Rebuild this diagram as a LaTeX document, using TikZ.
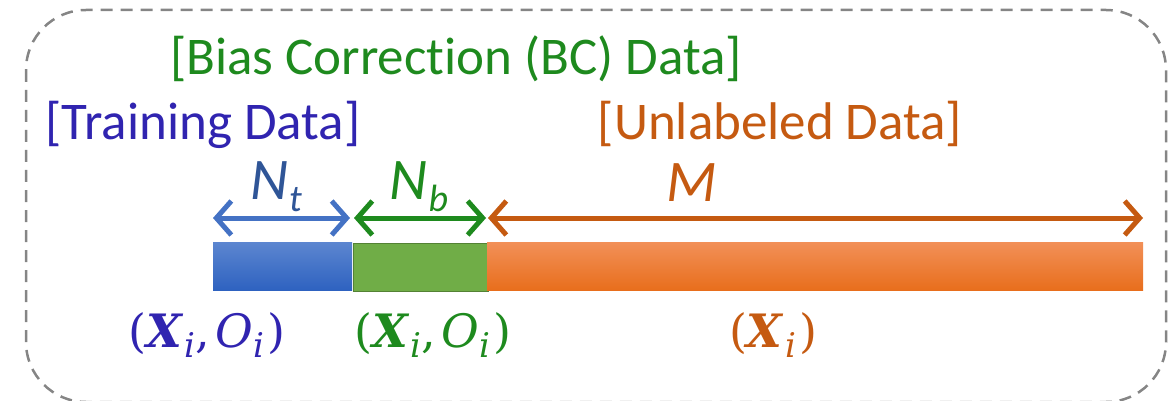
\documentclass[tikz,border=0pt]{standalone}
\usepackage{fontspec}
\setmainfont{Carlito}[Ligatures=NoCommon]
\newfontfamily\mathserif{DejaVu Serif}
\usetikzlibrary{arrows.meta}
\definecolor{frameGray}{HTML}{858585}
\definecolor{trainText}{HTML}{3024B0}
\definecolor{bcText}{HTML}{1E8A1E}
\definecolor{unlText}{HTML}{C55A11}
\definecolor{ntText}{HTML}{2F5597}
\definecolor{trainArrow}{HTML}{4472C4}
\definecolor{trainTop}{HTML}{5C86D0}
\definecolor{trainBot}{HTML}{2E62C0}
\definecolor{bcFill}{HTML}{70AD47}
\definecolor{bcEdge}{HTML}{548235}
\definecolor{unlTop}{HTML}{F29058}
\definecolor{unlBot}{HTML}{E86E1C}
\newcommand{\subsym}[1]{\raisebox{-13pt}{\fontsize{38}{40}\selectfont #1}}
\newcommand{\subidx}{\raisebox{-10pt}{\fontsize{34}{36}\selectfont\itshape i}}
\tikzset{
  x=1pt, y=-1pt,
  lbl/.style={font=\fontsize{53}{56}\selectfont, inner sep=0pt, anchor=base},
  sym/.style={font=\fontsize{59}{62}\selectfont\itshape, inner sep=0pt, anchor=base},
  pair/.style={font=\fontsize{46}{50}\selectfont\mathserif, inner sep=0pt, anchor=base},
  span/.style={line width=5pt, {Straight Barb[length=15pt,width=34pt,line width=5pt]}-{Straight Barb[length=15pt,width=34pt,line width=5pt]}},
  bar/.style={minimum height=48pt, inner sep=0pt, anchor=north west},
}
\begin{document}
\begin{tikzpicture}
\useasboundingbox (0,0) rectangle (1173,401);
% dashed frame, cut off by the page bottom
\begin{scope}
  \clip (0,0) rectangle (1173,401);
  \draw[frameGray, line width=2.5pt, dash pattern=on 12pt off 8pt, rounded corners=60pt]
    (26,10) rectangle (1166,402);
\end{scope}

% titles
\node[lbl, text=bcText] (bctitle) at (456,75) {[Bias Correction (BC) Data]};
\node[lbl, text=trainText] (trtitle) at (203,140) {[Training Data]};
\node[lbl, text=unlText] (untitle) at (780,140) {[Unlabeled Data]};

% data bars
\node[bar, minimum width=139pt, shade, top color=trainTop, bottom color=trainBot] (trbar) at (213,242) {};
\node[bar, minimum width=135pt, fill=bcFill, draw=bcEdge, line width=1.5pt] (bcbar) at (352.75,242.75) {};
\node[bar, minimum width=656pt, shade, top color=unlTop, bottom color=unlBot] (unbar) at (487,242) {};

% span arrows
\coordinate (a0) at (213,218);
\coordinate (a1) at (350,218);
\coordinate (a2) at (354,218);
\coordinate (a3) at (486,218);
\coordinate (a4) at (488,218);
\coordinate (a5) at (1143,218);
\draw[span, trainArrow] (a0) -- (a1);
\draw[span, bcText] (a2) -- (a3);
\draw[span, unlText] (a4) -- (a5);

% sizes
\node[sym, text=ntText] (nt) at (276,199) {N\kern1pt\subsym{t}};
\node[sym, text=bcText] (nb) at (419,199) {N\kern1pt\subsym{b}};
\node[sym, text=unlText] (m) at (692,201) {M};

% sample contents
\node[pair, text=trainText] (trpair) at (207,347) {(\textbf{\textit{X}}\kern1pt\subidx,\kern5pt\textit{O}\kern1pt\subidx\kern3pt)};
\node[pair, text=bcText] (bcpair) at (433,347) {(\textbf{\textit{X}}\kern1pt\subidx,\kern5pt\textit{O}\kern1pt\subidx\kern3pt)};
\node[pair, text=unlText] (unpair) at (773,347) {(\textbf{\textit{X}}\kern1pt\subidx\kern3pt)};
\end{tikzpicture}
\end{document}
